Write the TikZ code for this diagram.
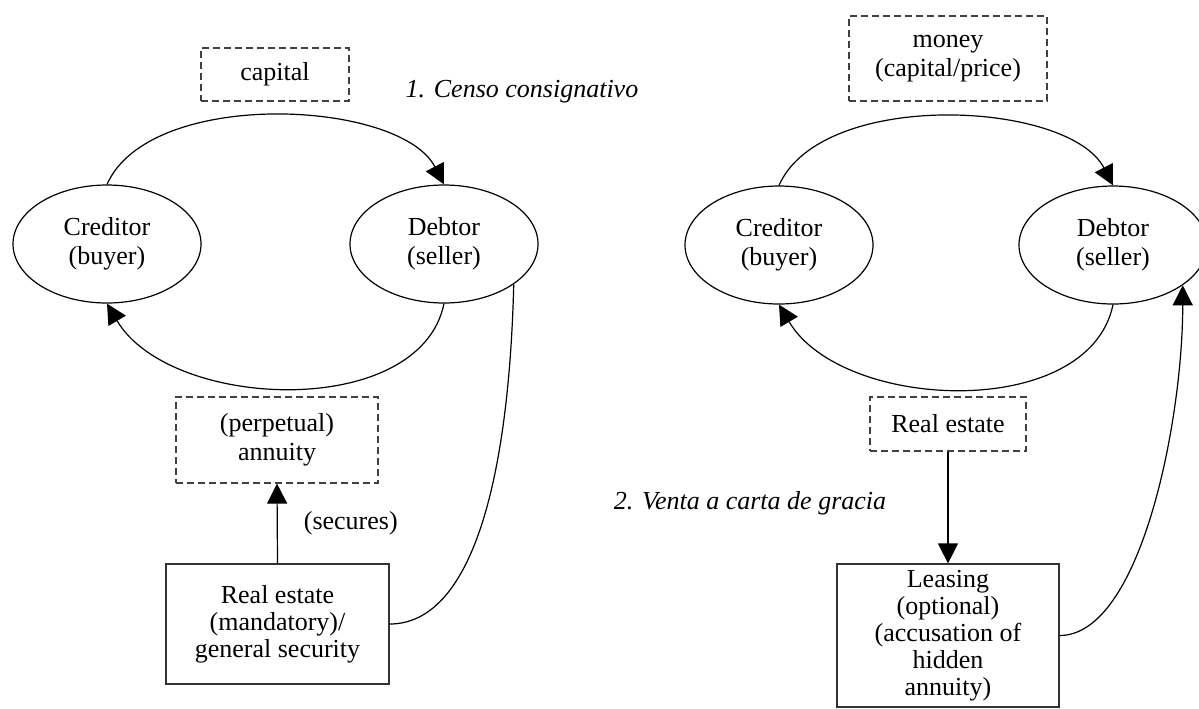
\documentclass[tikz,border=0pt]{standalone}
\usepackage{fontspec}
\setmainfont{Liberation Serif}
\usetikzlibrary{shapes.geometric,arrows.meta}

\begin{document}
\begin{tikzpicture}[x=0.5pt, y=-0.5pt,
  font=\fontsize{13pt}{14.5pt}\selectfont,
  party/.style={draw, ellipse, line width=0.6pt, minimum width=94pt, minimum height=59pt, inner sep=0pt, align=center},
  goods/.style={draw=black!75, dash pattern=on 3.5pt off 2pt, line width=0.6pt, align=center, inner sep=0pt},
  secbox/.style={draw=black!80, line width=0.6pt, align=center, inner sep=0pt, font=\fontsize{13pt}{13.5pt}\selectfont},
  flow/.style={line width=0.6pt, -{Triangle[length=10pt,width=10pt]}},
  link/.style={line width=0.6pt}]

\useasboundingbox (0,0) rectangle (1199,708);

% 1. Censo consignativo
\node[goods, minimum width=74pt, minimum height=26.5pt] (capital) at (275,74.5) {capital};
\node (title1) at (522,92) {\textit{1. Censo consignativo}};

\node[party] (cred1) at (107,244) {Creditor\\(buyer)};
\node[party] (debt1) at (444,244) {Debtor\\(seller)};

\node[goods, minimum width=101pt, minimum height=43pt] (annuity) at (277,440) {(perpetual)\\annuity};
\node[secbox, minimum width=111.5pt, minimum height=60pt] (realest1) at (277.5,624) {Real estate\\(mandatory)/\\general security};

\draw[flow] (cred1.north) .. controls +(43,-97) and +(-44,-85) .. (debt1.north);
\draw[flow] (debt1.south) .. controls +(-24,117) and +(63,107) .. (cred1.south);
\draw[flow] (realest1.north) -- node[right=13pt, inner sep=0pt] (secures) {(secures)} (annuity.south);
\draw[link] (debt1.-30) .. controls +(-5,200) and +(81,0) .. (realest1.east);

% 2. Venta a carta de gracia
\node[goods, minimum width=99pt, minimum height=42.5pt] (money) at (948,58.5) {money\\(capital/price)};
\node (title2) at (750,503) {\textit{2. Venta a carta de gracia}};

\node[party] (cred2) at (779,245) {Creditor\\(buyer)};
\node[party] (debt2) at (1113,245) {Debtor\\(seller)};

\node[goods, minimum width=78pt, minimum height=27pt] (realest2) at (948,424) {Real estate};
\node[secbox, minimum width=111pt, minimum height=71.5pt] (lease) at (948,635.5) {Leasing\\(optional)\\(accusation of\\hidden\\annuity)};

\draw[flow] (cred2.north) .. controls +(43,-97) and +(-44,-85) .. (debt2.north);
\draw[flow] (debt2.south) .. controls +(-24,117) and +(63,107) .. (cred2.south);
\draw[flow] (realest2.south) -- (lease.north);
\draw[flow] (lease.east) .. controls +(81,0) and +(0,136) .. (debt2.-30);

\end{tikzpicture}
\end{document}
